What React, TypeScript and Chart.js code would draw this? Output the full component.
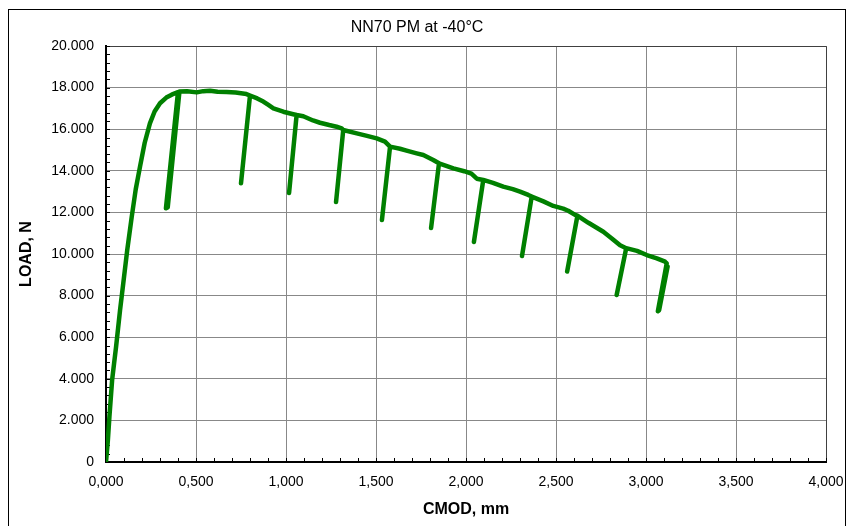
import React, { useEffect, useRef } from "react";
import { Chart, registerables } from "chart.js";

Chart.register(...registerables);

const chartTitle = "NN70 PM at -40°C";
const xAxisTitle = "CMOD, mm";
const yAxisTitle = "LOAD, N";

const xTickValues = [0, 0.5, 1, 1.5, 2, 2.5, 3, 3.5, 4];
const xTickLabels = ["0,000", "0,500", "1,000", "1,500", "2,000", "2,500", "3,000", "3,500", "4,000"];
const yTickValues = [0, 2000, 4000, 6000, 8000, 10000, 12000, 14000, 16000, 18000, 20000];
const yTickLabels = ["0", "2.000", "4.000", "6.000", "8.000", "10.000", "12.000", "14.000", "16.000", "18.000", "20.000"];

// CMOD (mm) and LOAD (N), in test order (envelope with unload/reload loops)
const cmod = [
  0, 0.01, 0.019, 0.034, 0.045, 0.056, 0.067, 0.078, 0.096, 0.118, 0.143, 0.165, 0.189, 0.215, 0.244, 0.27, 0.3, 0.335, 0.365, 0.4,
  0.333, 0.343, 0.408, 0.45, 0.504, 0.54, 0.578, 0.62, 0.67, 0.72, 0.78, 0.8,
  0.75, 0.8, 0.84, 0.874, 0.9, 0.93, 0.985, 1.04, 1.059,
  1.017, 1.059, 1.096, 1.15, 1.189, 1.24, 1.281, 1.309, 1.318,
  1.278, 1.318, 1.393, 1.45, 1.504, 1.55, 1.578,
  1.533, 1.578, 1.633, 1.67, 1.726, 1.763, 1.818, 1.85,
  1.806, 1.85, 1.93, 1.99, 2.03, 2.06, 2.096,
  2.044, 2.096, 2.15, 2.207, 2.26, 2.3, 2.346, 2.365,
  2.311, 2.365, 2.43, 2.485, 2.54, 2.568, 2.606, 2.619,
  2.562, 2.619, 2.68, 2.763, 2.81, 2.856, 2.89,
  2.837, 2.89, 2.95, 3.004, 3.06, 3.106, 3.115,
  3.066, 3.073, 3.12,
];
const load = [
  0, 1000, 2180, 3940, 4750, 5540, 6420, 7300, 8590, 10190, 11790, 13100, 14200, 15350, 16280, 16850, 17250, 17520, 17660, 17790,
  12200, 12250, 17810, 17820, 17770, 17830, 17850, 17800, 17790, 17760, 17690, 17620,
  13400, 17620, 17480, 17330, 17180, 17000, 16840, 16720, 16680,
  12930, 16680, 16620, 16420, 16310, 16200, 16120, 16040, 15960,
  12500, 15960, 15800, 15680, 15560, 15400, 15160,
  11630, 15160, 15060, 14970, 14840, 14760, 14520, 14360,
  11250, 14360, 14120, 13980, 13860, 13620, 13560,
  10580, 13560, 13420, 13240, 13120, 13000, 12840, 12760,
  9900, 12760, 12530, 12310, 12180, 12080, 11880, 11840,
  9160, 11840, 11500, 11070, 10750, 10420, 10280,
  8030, 10280, 10150, 9950, 9790, 9630, 9550,
  7250, 7300, 9400,
];

const xMinorStep = 0.1;
const yMinorStep = 400;

const FONT = "'Liberation Sans', Arial, sans-serif";

function labelFor(values: number[], labels: string[], v: number) {
  const i = values.findIndex((t) => Math.abs(t - v) < 1e-9);
  return i >= 0 ? labels[i] : "";
}

const decorPlugin = {
  id: "decor",
  beforeDraw(chart: any) {
    const { ctx, width, height } = chart;
    ctx.save();
    ctx.fillStyle = "#ffffff";
    ctx.fillRect(0, 0, width, height);
    ctx.strokeStyle = "#000000";
    ctx.lineWidth = 1;
    ctx.strokeRect(0.5, 1.5, width - 1, height + 10);
    ctx.restore();
  },
  beforeDatasetsDraw(chart: any) {
    const { ctx, chartArea } = chart;
    const xs = chart.scales.x;
    const ys = chart.scales.y;
    ctx.save();
    ctx.strokeStyle = "#404040";
    ctx.lineWidth = 1;
    ctx.beginPath();
    ctx.moveTo(chartArea.left, Math.round(chartArea.top) + 0.5);
    ctx.lineTo(Math.round(chartArea.right) + 0.5, Math.round(chartArea.top) + 0.5);
    ctx.lineTo(Math.round(chartArea.right) + 0.5, chartArea.bottom);
    ctx.stroke();
    ctx.strokeStyle = "#000000";
    ctx.beginPath();
    for (let v = 0; v <= 20000 + 1e-6; v += yMinorStep) {
      const py = Math.round(ys.getPixelForValue(v)) + 0.5;
      ctx.moveTo(chartArea.left, py);
      ctx.lineTo(chartArea.left + 4, py);
    }
    for (let k = 0; k <= 40; k++) {
      const px = Math.round(xs.getPixelForValue(k * xMinorStep)) + 0.5;
      ctx.moveTo(px, chartArea.bottom);
      ctx.lineTo(px, chartArea.bottom - 4);
    }
    ctx.stroke();
    ctx.restore();
  },
};

export default function App() {
  const ref = useRef<HTMLCanvasElement | null>(null);
  useEffect(() => {
    if (!ref.current) return;
    const points = cmod.map((x, i) => ({ x, y: load[i] }));
    const chart = new Chart(ref.current, {
      type: "scatter",
      data: {
        datasets: [
          {
            data: points,
            showLine: true,
            borderColor: "#008000",
            backgroundColor: "#008000",
            borderWidth: 4.5,
            pointRadius: 0,
            tension: 0,
            borderJoinStyle: "round",
            borderCapStyle: "round",
          } as any,
        ],
      },
      options: {
        responsive: false,
        animation: false,
        devicePixelRatio: 1,
        layout: { padding: { left: 0, right: 20, top: 0, bottom: 0 } },
        plugins: {
          legend: { display: false },
          tooltip: { enabled: false },
          title: {
            display: true,
            text: chartTitle,
            color: "#000000",
            font: { family: FONT, size: 16, weight: "normal" },
            padding: { top: 10.4, bottom: 8.4 },
          },
        },
        scales: {
          x: {
            type: "linear",
            position: "bottom",
            min: 0,
            max: 4,
            afterFit: (s: any) => {
              s.height = 76;
              s.paddingLeft = 0;
              s.paddingRight = 0;
            },
            ticks: {
              stepSize: 0.5,
              padding: 12,
              color: "#000000",
              font: { family: FONT, size: 14 },
              maxRotation: 0,
              autoSkip: false,
              callback: (v: any) => labelFor(xTickValues, xTickLabels, Number(v)),
            },
            grid: { color: "#888888", lineWidth: 1, drawTicks: false },
            border: { color: "#000000", width: 2 },
            title: {
              display: true,
              text: xAxisTitle,
              color: "#000000",
              font: { family: FONT, size: 16, weight: "bold" },
              padding: { top: 0, bottom: 18.4 },
            },
          },
          y: {
            type: "linear",
            min: 0,
            max: 20000,
            afterFit: (s: any) => {
              s.width = 98;
              s.paddingTop = 0;
              s.paddingBottom = 0;
            },
            ticks: {
              stepSize: 2000,
              padding: 12,
              color: "#000000",
              font: { family: FONT, size: 14 },
              callback: (v: any) => labelFor(yTickValues, yTickLabels, Number(v)),
            },
            grid: { color: "#888888", lineWidth: 1, drawTicks: false },
            border: { color: "#000000", width: 2 },
            title: {
              display: true,
              text: yAxisTitle,
              color: "#000000",
              font: { family: FONT, size: 16, weight: "bold" },
              padding: { top: 9.4, bottom: 0 },
            },
          },
        },
      } as any,
      plugins: [decorPlugin],
    });
    return () => chart.destroy();
  }, []);
  return (
    <div style={{ position: "fixed", left: 8, top: 8, width: 838, height: 530 }}>
      <canvas ref={ref} width={838} height={530} style={{ display: "block", width: 838, height: 530 }} />
    </div>
  );
}
